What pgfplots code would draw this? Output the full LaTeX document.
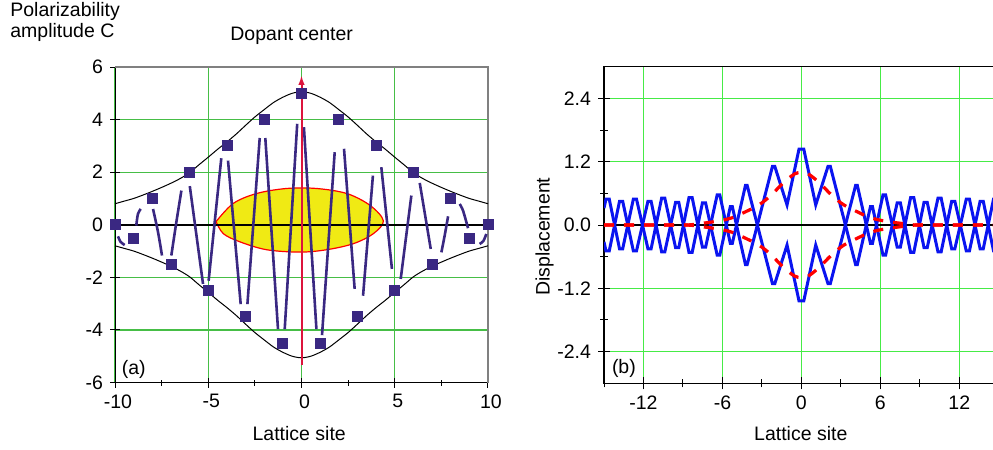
\documentclass[border=0pt]{standalone}
\usepackage{fontspec}
\setmainfont{Liberation Sans}
\usepackage{pgfplots}
\pgfplotsset{compat=1.18}
\usetikzlibrary{arrows.meta}
\definecolor{gridA}{RGB}{70,190,70}
\definecolor{gridB}{RGB}{70,235,70}
\definecolor{purp}{RGB}{58,40,130}
\definecolor{yell}{RGB}{240,234,20}
\definecolor{arrowred}{RGB}{220,20,60}
\definecolor{blu}{RGB}{10,20,240}
\newcommand{\fs}{\fontsize{9.75}{11.7}\selectfont}
\begin{document}
\begin{tikzpicture}
\useasboundingbox (0,0) rectangle (496.5pt,-225pt);
% ---------------- panel (a)
\begin{axis}[
 at={(57.5pt,-191.25pt)}, anchor=south west,
 width=186.5pt, height=157.75pt, scale only axis,
 xmin=-10, xmax=10, ymin=-6, ymax=6,
 axis x line=bottom, axis y line=left,
 axis line style={-, black, line width=0.5pt},
 xtick={-10,-5,0,5,10}, xticklabels={-10,-5,0,5,10},
 minor xtick={-7.5,-2.5,2.5,7.5},
 ytick={-6,-4,-2,0,2,4,6}, yticklabels={-6,-4,-2,0,2,4,6},
 tick align=center, major tick length=5pt, minor tick length=3pt,
 tick style={black, line width=0.5pt},
 grid=major, major grid style={gridA, line width=0.6pt},
 tick label style={font=\fs},
 xticklabel style={xshift=1.5pt},
 clip=false,
]
\draw[gray, line width=0.6pt] (rel axis cs:0,1) -- (rel axis cs:1,1) -- (rel axis cs:1,0);
% yellow region
\addplot[fill=yell, draw=red, line width=0.6pt, smooth, tension=0.55] coordinates {
 (-4.58,0.12) (-4.19,-0.34) (-3.3,-0.65) (-1.87,-0.95) (-0.08,-1.04) (1.35,-0.95)
 (2.78,-0.72) (3.85,-0.34) (4.39,0.15) (3.67,0.74) (2.42,1.19) (0.8,1.38)
 (-0.8,1.38) (-2.4,1.19) (-3.66,0.81) (-4.58,0.12)};
% zero line
\addplot[black, line width=0.8pt] coordinates {(-10,0) (10,0)};
% envelope
\addplot[black, line width=0.5pt, smooth] coordinates {
 (-10,0.8) (-9.5,0.9) (-9,1.0) (-8.5,1.13) (-8,1.27) (-7.5,1.42) (-7,1.58) (-6.5,1.76)
 (-6,1.98) (-5.5,2.28) (-5,2.57) (-4.5,2.87) (-4,3.15) (-3.5,3.45) (-3,3.78) (-2.5,4.1)
 (-2,4.38) (-1.5,4.65) (-1,4.85) (-0.5,5.0) (0,5.06) (0.5,5.0) (1,4.85) (1.5,4.65)
 (2,4.38) (2.5,4.1) (3,3.78) (3.5,3.45) (4,3.15) (4.5,2.87) (5,2.57) (5.5,2.28)
 (6,1.98) (6.5,1.76) (7,1.58) (7.5,1.42) (8,1.27) (8.5,1.13) (9,1.0) (9.5,0.9) (10,0.8)};
\addplot[black, line width=0.5pt, smooth] coordinates {
 (-10,-0.8) (-9.5,-0.9) (-9,-1.0) (-8.5,-1.13) (-8,-1.27) (-7.5,-1.42) (-7,-1.58) (-6.5,-1.76)
 (-6,-1.98) (-5.5,-2.28) (-5,-2.57) (-4.5,-2.87) (-4,-3.15) (-3.5,-3.45) (-3,-3.78) (-2.5,-4.1)
 (-2,-4.38) (-1.5,-4.65) (-1,-4.85) (-0.5,-5.0) (0,-5.06) (0.5,-5.0) (1,-4.85) (1.5,-4.65)
 (2,-4.38) (2.5,-4.1) (3,-3.78) (3.5,-3.45) (4,-3.15) (4.5,-2.87) (5,-2.57) (5.5,-2.28)
 (6,-1.98) (6.5,-1.76) (7,-1.58) (7.5,-1.42) (8,-1.27) (8.5,-1.13) (9,-1.0) (9.5,-0.9) (10,-0.8)};
% purple oscillation (broken near the sites)
\addplot[purp, line width=1.3pt, smooth, unbounded coords=jump] coordinates {
 (-9.84,-0.44) (-9.7,-0.65) (-9.48,-0.77) (0,nan)
 (-8.86,-0.03) (-8.77,0.41) (-8.62,0.6) (0,nan)
 (-7.96,0.6) (-7.69,-0.29) (-7.48,-1.17) (0,nan)
 (-6.98,-1.17) (-6.71,0.1) (-6.44,1.3) (0,nan)
 (-5.99,1.47) (-5.28,-2.25) (0,nan)
 (-4.98,-2.13) (-4.3,2.53) (0,nan)
 (-3.94,2.44) (-3.26,-3.02) (0,nan)
 (-2.9,-3.02) (-2.24,3.3) (0,nan)
 (-1.94,3.3) (-1.26,-3.97) (0,nan)
 (-0.9,-3.97) (-0.23,3.84) (0,nan)
 (0.13,3.71) (0.8,-3.97) (0,nan)
 (1.1,-4.2) (1.78,2.76) (0,nan)
 (2.28,2.89) (2.85,-2.44) (0,nan)
 (3.3,-2.7) (3.83,1.87) (0,nan)
 (4.28,2.19) (4.85,-1.68) (0,nan)
 (5.32,-2.06) (5.89,1.11) (0,nan)
 (6.34,1.59) (6.93,-0.92) (0,nan)
 (7.5,-1.05) (7.68,-0.4) (7.86,0.32) (0,nan)
 (8.48,0.79) (8.66,0.54) (8.93,-0.13) (0,nan)
 (9.55,-0.73) (9.75,-0.62) (9.91,-0.35)};
% sites
\addplot[only marks, mark=square*, mark size=2.5pt, purp] coordinates {
 (-10,0) (-9,-0.5) (-8,1) (-7,-1.5) (-6,2) (-5,-2.5) (-4,3) (-3,-3.5) (-2,4) (-1,-4.5)
 (0,5) (1,-4.5) (2,4) (3,-3.5) (4,3) (5,-2.5) (6,2) (7,-1.5) (8,1) (9,-0.5) (10,0)};
% dopant arrow
\addplot[arrowred, line width=1pt, -{Latex[length=5pt,width=3.2pt]}] coordinates {(0,-5.35) (0,5.7)};
\end{axis}
% ---------------- panel (b)
\begin{axis}[
 at={(302pt,-191.65pt)}, anchor=south west,
 width=197.4pt, height=158.3pt, scale only axis,
 xmin=-15, xmax=15, ymin=-3, ymax=3,
 axis line style={black, line width=0.6pt},
 xtick={-12,-6,0,6,12}, xticklabels={-12,-6,0,6,12},
 minor xtick={-15,-9,-3,3,9,15},
 ytick={-2.4,-1.2,0,1.2,2.4}, yticklabels={-2.4,-1.2,0.0,1.2,2.4},
 minor ytick={-1.8,-0.6,0.6,1.8},
 tick pos=left,
 tick align=center, major tick length=6pt, minor tick length=4pt,
 tick style={black, line width=0.5pt},
 grid=major, major grid style={gridB, line width=0.6pt},
 tick label style={font=\fs},
]
\addplot[black, line width=0.8pt] coordinates {(-15,0) (15,0)};
\addplot[blu, line width=1.5pt] coordinates {
 (-15,-0.32) (-14.85,-0.49) (-14.6,-0.49) (-13.82,0.45) (-13.58,0.45) (-12.77,-0.49) (-12.53,-0.49)
 (-11.66,0.45) (-11.42,0.45) (-10.62,-0.51) (-10.38,-0.51) (-9.56,0.43) (-9.32,0.43)
 (-8.54,-0.52) (-8.3,-0.52) (-7.52,0.42) (-7.28,0.42) (-6.4,-0.57) (-6.2,-0.57)
 (-5.4,0.35) (-5.25,0.35) (-4.25,-0.75) (-4.12,-0.75) (-2.2,1.11) (-2.02,1.11)
 (-1.09,0.38) (-0.18,1.44) (0.18,1.44) (1.09,0.38) (2.02,1.11) (2.2,1.11)
 (4.12,-0.75) (4.25,-0.75) (5.25,0.35) (5.4,0.35) (6.2,-0.57) (6.4,-0.57)
 (7.28,0.42) (7.52,0.42) (8.3,-0.52) (8.54,-0.52) (9.32,0.43) (9.56,0.43)
 (10.38,-0.51) (10.62,-0.51) (11.42,0.45) (11.66,0.45) (12.53,-0.49) (12.77,-0.49)
 (13.58,0.45) (13.82,0.45) (14.6,-0.49) (14.85,-0.49) (15,-0.32)};
\addplot[blu, line width=1.5pt] coordinates {
 (-15,0.32) (-14.85,0.49) (-14.6,0.49) (-13.82,-0.45) (-13.58,-0.45) (-12.77,0.49) (-12.53,0.49)
 (-11.66,-0.45) (-11.42,-0.45) (-10.62,0.51) (-10.38,0.51) (-9.56,-0.43) (-9.32,-0.43)
 (-8.54,0.52) (-8.3,0.52) (-7.52,-0.42) (-7.28,-0.42) (-6.4,0.57) (-6.2,0.57)
 (-5.4,-0.35) (-5.25,-0.35) (-4.25,0.75) (-4.12,0.75) (-2.2,-1.11) (-2.02,-1.11)
 (-1.09,-0.38) (-0.18,-1.44) (0.18,-1.44) (1.09,-0.38) (2.02,-1.11) (2.2,-1.11)
 (4.12,0.75) (4.25,0.75) (5.25,-0.35) (5.4,-0.35) (6.2,0.57) (6.4,0.57)
 (7.28,-0.42) (7.52,-0.42) (8.3,0.52) (8.54,0.52) (9.32,-0.43) (9.56,-0.43)
 (10.38,0.51) (10.62,0.51) (11.42,-0.45) (11.66,-0.45) (12.53,0.49) (12.77,0.49)
 (13.58,-0.45) (13.82,-0.45) (14.6,0.49) (14.85,0.49) (15,0.32)};
\addplot[red, line width=1.6pt, dash pattern=on 5pt off 5pt, smooth] coordinates {
 (-15,0) (-9,0) (-8,0.02) (-7,0.05) (-6,0.09) (-5.5,0.12) (-5,0.16) (-4.5,0.22) (-4,0.28)
 (-3.5,0.34) (-3,0.42) (-2.5,0.52) (-2,0.64) (-1.5,0.77) (-1,0.88) (-0.5,0.97) (0,1.0)
 (0.5,0.97) (1,0.88) (1.5,0.77) (2,0.64) (2.5,0.52) (3,0.42) (3.5,0.34) (4,0.28) (4.5,0.22)
 (5,0.16) (5.5,0.12) (6,0.09) (7,0.05) (8,0.02) (9,0) (15,0)};
\addplot[red, line width=1.6pt, dash pattern=on 5pt off 5pt, smooth] coordinates {
 (-15,0) (-9,0) (-8,-0.02) (-7,-0.05) (-6,-0.09) (-5.5,-0.12) (-5,-0.16) (-4.5,-0.22) (-4,-0.28)
 (-3.5,-0.34) (-3,-0.42) (-2.5,-0.52) (-2,-0.64) (-1.5,-0.77) (-1,-0.88) (-0.5,-0.97) (0,-1.0)
 (0.5,-0.97) (1,-0.88) (1.5,-0.77) (2,-0.64) (2.5,-0.52) (3,-0.42) (3.5,-0.34) (4,-0.28) (4.5,-0.22)
 (5,-0.16) (5.5,-0.12) (6,-0.09) (7,-0.05) (8,-0.02) (9,0) (15,0)};
\end{axis}
% ---------------- texts
\node[font=\fs, anchor=base west, inner sep=0pt] at (5pt,-8pt) {Polarizability};
\node[font=\fs, anchor=base west, inner sep=0pt] at (5pt,-18.85pt) {amplitude C};
\node[font=\fs, anchor=base west, inner sep=0pt] at (115pt,-20pt) {Dopant center};
\node[font=\fs, anchor=base, inner sep=0pt] at (149.6pt,-220pt) {Lattice site};
\node[font=\fs, anchor=base, inner sep=0pt] at (400.4pt,-220pt) {Lattice site};
\node[font=\fs, anchor=base, inner sep=0pt, rotate=90] at (274.75pt,-118.35pt) {Displacement};
\node[font=\fs, anchor=base west, inner sep=0pt] at (60.7pt,-187pt) {(a)};
\node[font=\fs, anchor=base west, inner sep=0pt] at (305.8pt,-186.8pt) {(b)};
\end{tikzpicture}
\end{document}
